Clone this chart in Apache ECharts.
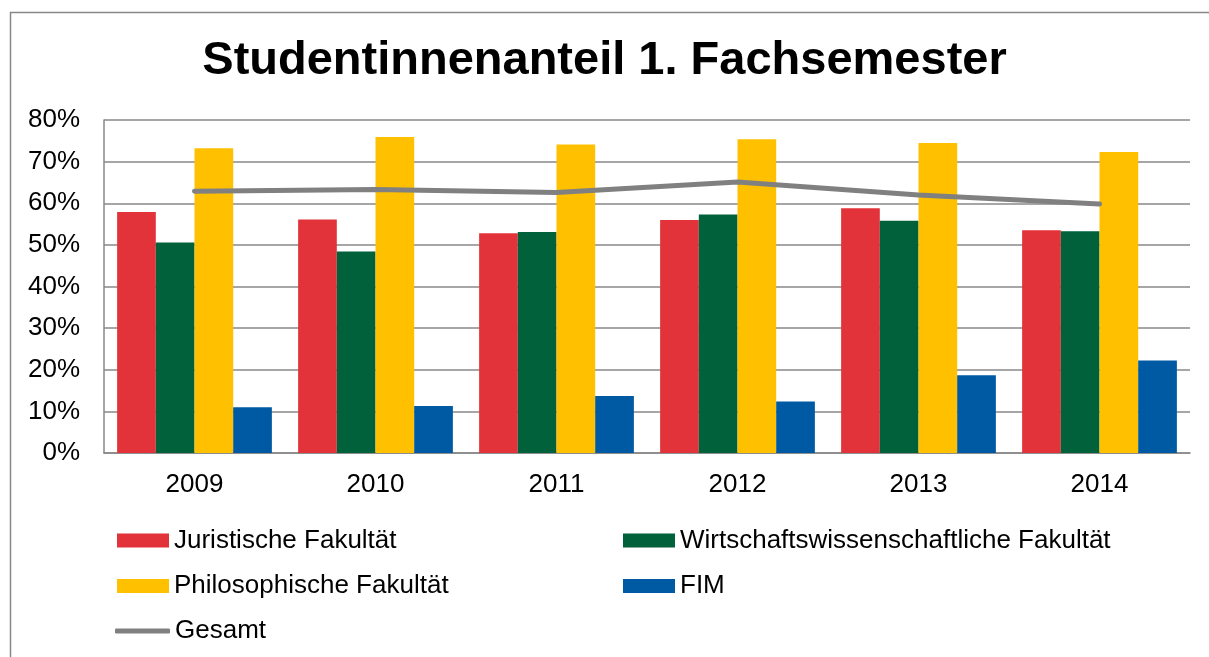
<!DOCTYPE html>
<html>
<head>
<meta charset="utf-8">
<title>Studentinnenanteil 1. Fachsemester</title>
<script src="https://cdn.jsdelivr.net/npm/echarts@6/dist/echarts.min.js"></script>
<style>
  html, body { margin: 0; padding: 0; background: #ffffff; }
  #main { width: 1209px; height: 657px; }
</style>
</head>
<body>
<div id="main"></div>
<script>
// Daten (Anteil in %)
var years = ['2009', '2010', '2011', '2012', '2013', '2014'];
var juristisch = [57.9, 56.1, 52.8, 56.0, 58.8, 53.5];
var wirtschaft = [50.6, 48.4, 53.1, 57.3, 55.8, 53.3];
var philosophisch = [73.2, 75.9, 74.1, 75.4, 74.5, 72.3];
var fim = [11.0, 11.3, 13.7, 12.4, 18.7, 22.2];
var gesamt = [62.9, 63.3, 62.6, 65.1, 62.0, 59.8];
var yTicks = [0, 10, 20, 30, 40, 50, 60, 70, 80];

var font = 'Liberation Sans, Arial, sans-serif';
var gridColor = '#888888';
var legendText = { fontSize: 26, color: '#000', lineHeight: 26, fontFamily: font };

var myChart = echarts.init(document.getElementById('main'));

var option = {
    animation: false,
    textStyle: { fontFamily: font },
    title: {
        text: 'Studentinnenanteil 1. Fachsemester',
        left: 'center',
        top: 38,
        padding: 0,
        textStyle: { fontSize: 47, fontWeight: 'bold', color: '#000', fontFamily: font }
    },
    graphic: [{
        // Rahmen um das Diagramm
        type: 'rect',
        shape: { x: 10.5, y: 12.5, width: 1300, height: 800 },
        style: { fill: 'none', stroke: '#888888', lineWidth: 1.5 },
        silent: true
    }],
    legend: [
        {
            orient: 'vertical',
            left: 117,
            top: 527.5,
            padding: 0,
            icon: 'rect',
            itemWidth: 52,
            itemHeight: 14,
            itemGap: 19.5,
            textStyle: legendText,
            data: ['Juristische Fakultät', 'Philosophische Fakultät']
        },
        {
            orient: 'vertical',
            left: 623,
            top: 527.5,
            padding: 0,
            icon: 'rect',
            itemWidth: 52,
            itemHeight: 14,
            itemGap: 19.5,
            textStyle: legendText,
            data: ['Wirtschaftswissenschaftliche Fakultät', 'FIM']
        },
        {
            left: 115,
            top: 618,
            padding: 0,
            icon: 'roundRect',
            itemWidth: 55,
            itemHeight: 5,
            textStyle: legendText,
            data: ['Gesamt']
        }
    ],
    grid: {
        left: 104,
        right: 19,
        top: 120,
        bottom: 204
    },
    xAxis: {
        type: 'category',
        data: years,
        axisLine: { show: true, lineStyle: { color: gridColor, width: 1.5 } },
        axisTick: { show: false },
        axisLabel: { fontSize: 26, color: '#000', margin: 19, fontFamily: font }
    },
    yAxis: {
        type: 'value',
        min: yTicks[0],
        max: yTicks[yTicks.length - 1],
        interval: 10,
        axisLine: { show: true, lineStyle: { color: gridColor, width: 1.5 } },
        axisTick: { show: false },
        axisLabel: { fontSize: 26, color: '#000', margin: 24, formatter: '{value}%', fontFamily: font },
        splitLine: { show: true, lineStyle: { color: gridColor, width: 1.5 } }
    },
    series: [
        {
            name: 'Juristische Fakultät',
            type: 'bar',
            barGap: 0,
            barCategoryGap: '14.5%',
            itemStyle: { color: '#E3333A' },
            data: juristisch
        },
        {
            name: 'Wirtschaftswissenschaftliche Fakultät',
            type: 'bar',
            barGap: 0,
            barCategoryGap: '14.5%',
            itemStyle: { color: '#00613A' },
            data: wirtschaft
        },
        {
            name: 'Philosophische Fakultät',
            type: 'bar',
            barGap: 0,
            barCategoryGap: '14.5%',
            itemStyle: { color: '#FFC000' },
            data: philosophisch
        },
        {
            name: 'FIM',
            type: 'bar',
            barGap: 0,
            barCategoryGap: '14.5%',
            itemStyle: { color: '#005AA3' },
            data: fim
        },
        {
            name: 'Gesamt',
            type: 'line',
            symbol: 'none',
            lineStyle: { color: '#808080', width: 5, cap: 'round' },
            itemStyle: { color: '#808080' },
            z: 5,
            data: gesamt
        }
    ]
};

myChart.setOption(option);
</script>
</body>
</html>
